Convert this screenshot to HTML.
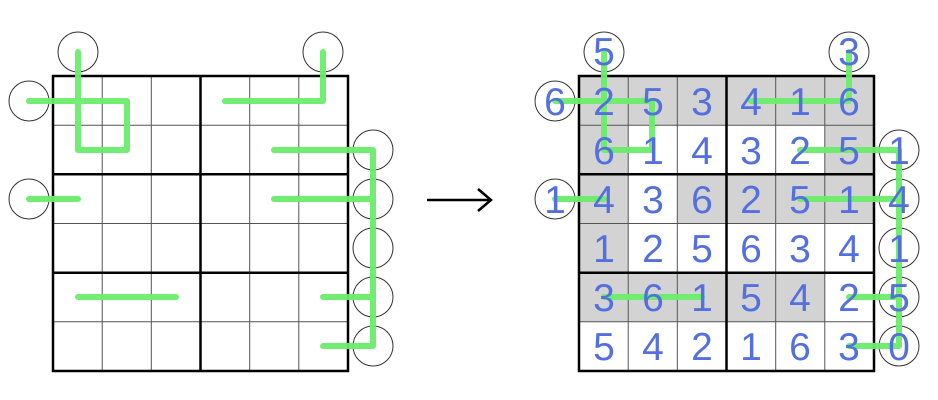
<!DOCTYPE html>
<html><head><meta charset="utf-8"><style>
html,body{margin:0;padding:0;background:#fff;}
svg{display:block;}
text{font-family:"Liberation Sans",sans-serif;font-size:39px;fill:#5470e0;text-anchor:middle;}
</style></head><body>
<svg width="938" height="400" viewBox="0 0 938 400" xmlns="http://www.w3.org/2000/svg">
<!-- LEFT -->
<g fill="none" stroke="#333" stroke-width="1">
<circle cx="78" cy="52" r="20"/><circle cx="323" cy="52" r="20"/>
<circle cx="29" cy="101" r="20"/><circle cx="29" cy="199" r="20"/>
<circle cx="373" cy="150" r="20"/><circle cx="373" cy="199" r="20"/><circle cx="373" cy="248" r="20"/><circle cx="373" cy="297" r="20"/><circle cx="373" cy="346" r="20"/>
</g>
<g stroke="#555" stroke-width="1">
<line x1="102.2" y1="76" x2="102.2" y2="371"/><line x1="151.3" y1="76" x2="151.3" y2="371"/>
<line x1="249.7" y1="76" x2="249.7" y2="371"/><line x1="298.8" y1="76" x2="298.8" y2="371"/>
<line x1="53" y1="125.2" x2="348" y2="125.2"/><line x1="53" y1="223.5" x2="348" y2="223.5"/><line x1="53" y1="321.8" x2="348" y2="321.8"/>
</g>
<g stroke="#000" stroke-width="2.5" fill="none">
<rect x="53" y="76" width="295" height="295"/>
<line x1="200.5" y1="76" x2="200.5" y2="371"/>
<line x1="53" y1="174.3" x2="348" y2="174.3"/><line x1="53" y1="272.7" x2="348" y2="272.7"/>
</g>
<g stroke="#6aed6a" stroke-width="6" fill="none" stroke-linecap="round" stroke-linejoin="round" opacity="0.95">
<polyline points="78,52 78,150 127,150 127,101 29,101"/>
<polyline points="323,52 323,101 225,101"/>
<polyline points="274,150 373,150 373,346 323,346"/>
<polyline points="274,199 373,199"/>
<polyline points="323,297 373,297"/>
<polyline points="29,199 78,199"/>
<polyline points="78,297 176,297"/>
</g>
<!-- ARROW -->
<line x1="427" y1="200" x2="490" y2="200" stroke="#000" stroke-width="2.5"/>
<polyline points="478,189 491,200 478,211" fill="none" stroke="#000" stroke-width="2.5"/>
<!-- RIGHT -->
<g fill="#d3d3d3">
<rect x="579" y="76" width="295" height="49.2"/>
<rect x="579" y="125.2" width="49.2" height="49.2"/><rect x="824.8" y="125.2" width="49.2" height="49.2"/>
<rect x="579" y="174.3" width="49.2" height="49.2"/><rect x="677.3" y="174.3" width="196.7" height="49.2"/>
<rect x="579" y="223.5" width="49.2" height="49.2"/>
<rect x="579" y="272.7" width="245.8" height="49.2"/>
</g>
<g fill="none" stroke="#333" stroke-width="1">
<circle cx="604" cy="52" r="20"/><circle cx="849" cy="52" r="20"/>
<circle cx="555" cy="101" r="20"/><circle cx="555" cy="199" r="20"/>
<circle cx="899" cy="150" r="20"/><circle cx="899" cy="199" r="20"/><circle cx="899" cy="248" r="20"/><circle cx="899" cy="297" r="20"/><circle cx="899" cy="346" r="20"/>
</g>
<g stroke="#555" stroke-width="1">
<line x1="628.2" y1="76" x2="628.2" y2="371"/><line x1="677.3" y1="76" x2="677.3" y2="371"/>
<line x1="775.7" y1="76" x2="775.7" y2="371"/><line x1="824.8" y1="76" x2="824.8" y2="371"/>
<line x1="579" y1="125.2" x2="874" y2="125.2"/><line x1="579" y1="223.5" x2="874" y2="223.5"/><line x1="579" y1="321.8" x2="874" y2="321.8"/>
</g>
<g stroke="#000" stroke-width="2.5" fill="none">
<rect x="579" y="76" width="295" height="295"/>
<line x1="726.5" y1="76" x2="726.5" y2="371"/>
<line x1="579" y1="174.3" x2="874" y2="174.3"/><line x1="579" y1="272.7" x2="874" y2="272.7"/>
</g>
<g stroke="#6aed6a" stroke-width="6" fill="none" stroke-linecap="round" stroke-linejoin="round" opacity="0.95">
<polyline points="604,52 604,150 652,150 652,101 555,101"/>
<polyline points="849,52 849,101 751,101"/>
<polyline points="800,150 899,150 899,346 849,346"/>
<polyline points="800,199 899,199"/>
<polyline points="849,297 899,297"/>
<polyline points="555,199 604,199"/>
<polyline points="604,297 702,297"/>
</g>
<g>
<text x="604" y="65">5</text><text x="849" y="65">3</text>
<text x="555" y="115">6</text><text x="555" y="213">1</text>
<text x="899" y="164">1</text><text x="899" y="213">4</text><text x="899" y="262">1</text><text x="899" y="311">5</text><text x="899" y="360">0</text>

<text x="604" y="115">2</text><text x="653" y="115">5</text><text x="702" y="115">3</text><text x="751" y="115">4</text><text x="800" y="115">1</text><text x="849" y="115">6</text>
<text x="604" y="164">6</text><text x="653" y="164">1</text><text x="702" y="164">4</text><text x="751" y="164">3</text><text x="800" y="164">2</text><text x="849" y="164">5</text>
<text x="604" y="213">4</text><text x="653" y="213">3</text><text x="702" y="213">6</text><text x="751" y="213">2</text><text x="800" y="213">5</text><text x="849" y="213">1</text>
<text x="604" y="262">1</text><text x="653" y="262">2</text><text x="702" y="262">5</text><text x="751" y="262">6</text><text x="800" y="262">3</text><text x="849" y="262">4</text>
<text x="604" y="311">3</text><text x="653" y="311">6</text><text x="702" y="311">1</text><text x="751" y="311">5</text><text x="800" y="311">4</text><text x="849" y="311">2</text>
<text x="604" y="360">5</text><text x="653" y="360">4</text><text x="702" y="360">2</text><text x="751" y="360">1</text><text x="800" y="360">6</text><text x="849" y="360">3</text>
</g>
</svg>
</body></html>
